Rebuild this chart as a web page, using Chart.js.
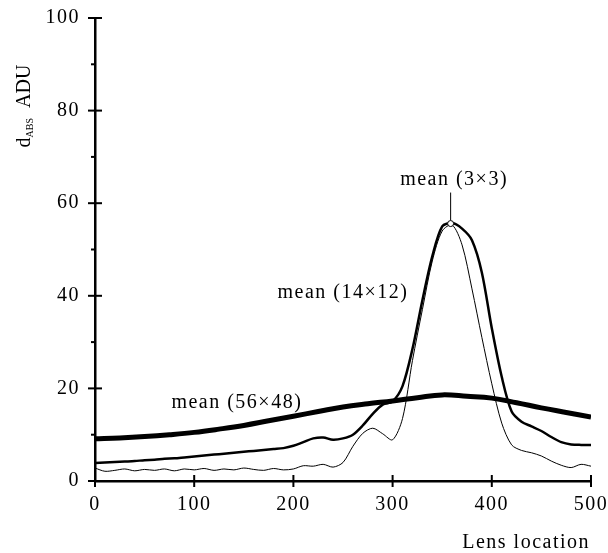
<!DOCTYPE html>
<html>
<head>
<meta charset="utf-8">
<script src="https://cdn.jsdelivr.net/npm/chart.js@4"></script>
<style>
    html, body { margin: 0; padding: 0; background: #fff; }
    #wrap { width: 608px; height: 553px; }
</style>
</head>
<body>
<div id="wrap"><canvas id="lensChart" width="608" height="553"></canvas></div>
<script>
// --- Data ---

// lens location sampled every 10 for the two narrow windows
const fineX = [0, 10, 20, 30, 40, 50, 60, 70, 80, 90, 100, 110, 120, 130, 140, 150, 160, 170, 180, 190,
    200, 210, 220, 230, 240, 250, 260, 270, 280, 290, 300, 310, 320, 330, 340, 350, 360, 370, 380, 390,
    400, 410, 420, 430, 440, 450, 460, 470, 480, 490, 500];

const mean3x3 = [2.8, 2.1, 2.3, 2.6, 2.2, 2.5, 2.3, 2.6, 2.2, 2.6, 2.4, 2.7, 2.3, 2.6, 2.4, 2.8, 2.5, 2.3, 2.7, 2.4,
    2.6, 3.3, 3.2, 3.6, 3.0, 4.0, 7.5, 10.3, 11.4, 10.2, 8.9, 13.5, 26, 37, 47.5, 54, 55.3, 51, 41.5, 31,
    21, 12.5, 7.8, 6.6, 6.1, 5.4, 4.3, 3.4, 2.9, 3.6, 3.2];

const mean14x12 = [3.9, 4.0, 4.1, 4.2, 4.3, 4.5, 4.6, 4.8, 4.9, 5.1, 5.3, 5.5, 5.7, 5.9, 6.1, 6.3, 6.5, 6.7, 6.9, 7.1,
    7.6, 8.4, 9.2, 9.4, 8.9, 9.2, 10.0, 12.0, 14.5, 16.5, 17.2, 20.5, 28.5, 39, 48.5, 55, 55.7, 54.5, 52, 45,
    33, 22.5, 15, 12.8, 11.8, 10.8, 9.5, 8.4, 7.9, 7.8, 7.8];

// wide window is smooth, every 25 is enough
const coarseX = [0, 25, 50, 75, 100, 125, 150, 175, 200, 225, 250, 275, 300, 325, 350, 375, 400, 425, 450, 475, 500];
const mean56x48 = [9.1, 9.3, 9.6, 10.0, 10.5, 11.2, 12.0, 13.0, 14.0, 15.0, 16.0, 16.7, 17.3, 18.0, 18.6, 18.3, 17.9, 16.9, 15.8, 14.8, 13.8];

const xTicks = [0, 100, 200, 300, 400, 500];
const yTicks = [0, 20, 40, 60, 80, 100];
const yMinorTicks = [10, 30, 50, 70, 90];

// curve labels, in data units
const notes = [
    { text: 'mean (3×3)', x: 362, y: 64, align: 'center' },
    { text: 'mean (14×12)', x: 184, y: 39.5, align: 'left' },
    { text: 'mean (56×48)', x: 77, y: 15.8, align: 'left' }
];
const leader = { x: 358.5, yTop: 62.3, yPeak: 55.6 };

const FONT = '20px "Liberation Serif", "Times New Roman", serif';
const SPACING = '1.5px';

const pairs = (xs, ys) => xs.map((x, i) => ({ x: x, y: ys[i] }));

// drop the label overhang padding so the plot box stays where we put it
const noPad = s => { s.paddingLeft = 0; s.paddingRight = 0; s.paddingTop = 0; s.paddingBottom = 0; };

// --- Plugins ---

const letterSpacing = {
    id: 'letterSpacing',
    beforeLayout(chart) { chart.ctx.letterSpacing = SPACING; },
    beforeDraw(chart) { chart.ctx.letterSpacing = SPACING; }
};

const axisDecor = {
    id: 'axisDecor',
    afterDraw(chart) {
        const ctx = chart.ctx;
        const xs = chart.scales.x;
        const ys = chart.scales.y;
        const left = chart.chartArea.left;
        const bottom = chart.chartArea.bottom;

        ctx.save();
        ctx.strokeStyle = '#000';
        ctx.fillStyle = '#000';
        ctx.lineWidth = 2;

        const seg = (x1, y1, x2, y2) => { ctx.beginPath(); ctx.moveTo(x1, y1); ctx.lineTo(x2, y2); ctx.stroke(); };

        // crossing tick marks
        yTicks.forEach(v => { const py = ys.getPixelForValue(v); seg(left - 7, py, left + 7, py); });
        yMinorTicks.forEach(v => { const py = ys.getPixelForValue(v); seg(left - 4, py, left, py); });
        xTicks.forEach(v => { const px = xs.getPixelForValue(v); seg(px, bottom - 6, px, bottom + 6); });

        // y axis title: d with ABS subscript, then ADU
        ctx.letterSpacing = '0px';
        ctx.translate(23, 106);
        ctx.rotate(-Math.PI / 2);
        ctx.textBaseline = 'alphabetic';
        ctx.textAlign = 'left';
        const big = '20px "Liberation Serif", serif';
        const small = '10px "Liberation Serif", serif';
        ctx.font = big;
        const wD = ctx.measureText('d').width;
        const wRest = ctx.measureText('  ADU').width;
        ctx.font = small;
        const wSub = ctx.measureText('ABS').width;
        let cx = -(wD + wSub + wRest) / 2;
        ctx.font = big;
        ctx.fillText('d', cx, 7);
        cx += wD;
        ctx.font = small;
        ctx.fillText('ABS', cx, 10);
        cx += wSub;
        ctx.font = big;
        ctx.fillText('  ADU', cx, 7);
        ctx.restore();

        // curve labels
        ctx.save();
        ctx.letterSpacing = SPACING;
        ctx.font = FONT;
        ctx.fillStyle = '#000';
        ctx.textBaseline = 'alphabetic';
        notes.forEach(n => {
            ctx.textAlign = n.align;
            ctx.fillText(n.text, xs.getPixelForValue(n.x), ys.getPixelForValue(n.y));
        });

        // leader line to the peak, with the small open circle
        const lx = xs.getPixelForValue(leader.x);
        const peakY = ys.getPixelForValue(leader.yPeak);
        ctx.strokeStyle = '#000';
        ctx.lineWidth = 1;
        ctx.beginPath();
        ctx.moveTo(lx, ys.getPixelForValue(leader.yTop));
        ctx.lineTo(lx, peakY - 3);
        ctx.stroke();
        ctx.beginPath();
        ctx.arc(lx, peakY, 3, 0, Math.PI * 2);
        ctx.fillStyle = '#fff';
        ctx.fill();
        ctx.stroke();

        // x axis title
        ctx.fillStyle = '#000';
        ctx.textAlign = 'right';
        ctx.fillText('Lens location', 590, 548);
        ctx.restore();
    }
};

// --- Chart ---

new Chart(document.getElementById('lensChart'), {
    type: 'line',
    data: {
        datasets: [
            { label: 'mean (56×48)', data: pairs(coarseX, mean56x48), borderColor: '#000', borderWidth: 5, tension: 0.4, pointRadius: 0 },
            { label: 'mean (14×12)', data: pairs(fineX, mean14x12), borderColor: '#000', borderWidth: 2.5, tension: 0.3, pointRadius: 0 },
            { label: 'mean (3×3)', data: pairs(fineX, mean3x3), borderColor: '#000', borderWidth: 1, tension: 0.3, pointRadius: 0 }
        ]
    },
    options: {
        responsive: false,
        animation: false,
        devicePixelRatio: 1,
        layout: { padding: { left: 0, right: 17, top: 18, bottom: 0 } },
        plugins: { legend: { display: false }, tooltip: { enabled: false } },
        scales: {
            x: {
                type: 'linear',
                min: 0,
                max: 500,
                afterFit: s => { s.height = 72; noPad(s); },
                afterBuildTicks: s => { s.ticks = xTicks.map(v => ({ value: v })); },
                grid: { display: false, drawTicks: false },
                border: { display: true, color: '#000', width: 2.5 },
                ticks: { color: '#000', padding: 12, maxRotation: 0, font: { family: '"Liberation Serif", serif', size: 20 } }
            },
            y: {
                min: 0,
                max: 100,
                afterFit: s => { s.width = 95; noPad(s); },
                afterBuildTicks: s => { s.ticks = yTicks.map(v => ({ value: v })); },
                grid: { display: false, drawTicks: false },
                border: { display: true, color: '#000', width: 2.5 },
                ticks: { color: '#000', padding: 15, font: { family: '"Liberation Serif", serif', size: 20 } }
            }
        }
    },
    plugins: [letterSpacing, axisDecor]
});
</script>
</body>
</html>
